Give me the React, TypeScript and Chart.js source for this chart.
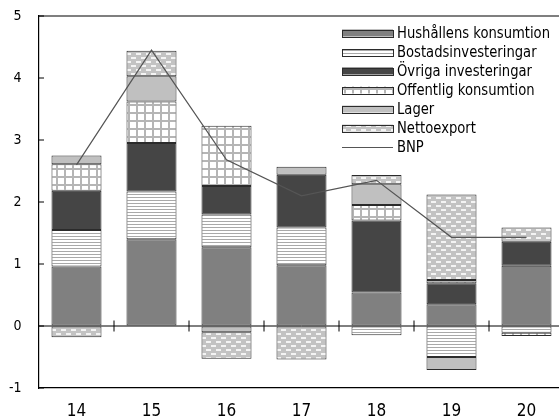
import React, { useEffect, useRef } from "react";
import { Chart, registerables } from "chart.js";

Chart.register(...registerables);

const years = ["14", "15", "16", "17", "18", "19", "20"];
const hushallens = [0.96, 1.4, 1.27, 0.98, 0.54, 0.35, 0.97];
const bostad = [0.59, 0.77, 0.53, 0.61, -0.15, -0.5, -0.11];
const ovriga = [0.63, 0.78, 0.46, 0.85, 1.16, 0.34, 0.39];
const offentlig = [0.43, 0.67, 0.97, null, 0.25, 0.05, -0.05];
const lager = [0.14, 0.41, -0.1, 0.13, 0.335, -0.21, null];
const netto = [-0.18, 0.41, -0.43, -0.54, 0.15, 1.38, 0.23];
const bnp = [2.6, 4.45, 2.68, 2.1, 2.35, 1.43, 1.43];

const labels = [
  "Hushållens konsumtion",
  "Bostadsinvesteringar",
  "Övriga investeringar",
  "Offentlig konsumtion",
  "Lager",
  "Nettoexport",
  "BNP",
];

const FONT = '"Liberation Sans Narrow", "Arial Narrow", "DejaVu Sans Condensed", sans-serif';
const BORDER = "#2b2b2b";

function makePattern(w: number, h: number, draw: (c: CanvasRenderingContext2D) => void) {
  const cv = document.createElement("canvas");
  cv.width = w;
  cv.height = h;
  const c = cv.getContext("2d")!;
  draw(c);
  return c.createPattern(cv, "repeat")!;
}

export default function App() {
  const ref = useRef<HTMLCanvasElement>(null);

  useEffect(() => {
    const stripes = makePattern(4, 3, (c) => {
      c.fillStyle = "#ffffff";
      c.fillRect(0, 0, 4, 3);
      c.fillStyle = "#a9a9a9";
      c.fillRect(0, 2, 4, 1);
    });
    const grid = makePattern(8, 8, (c) => {
      c.fillStyle = "#b5b5b5";
      c.fillRect(0, 0, 8, 8);
      c.fillStyle = "#ffffff";
      c.fillRect(2, 2, 6, 6);
    });
    const dots = makePattern(10, 8, (c) => {
      c.fillStyle = "#c3c3c3";
      c.fillRect(0, 0, 10, 8);
      c.fillStyle = "#f4f4f4";
      c.fillRect(1, 1, 5, 2);
      c.fillRect(6, 5, 4, 2);
      c.fillRect(0, 5, 1, 2);
    });

    const fills: (string | CanvasPattern)[] = ["#808080", stripes, "#454545", grid, "#c0c0c0", dots];
    const series = [hushallens, bostad, ovriga, offentlig, lager, netto];

    const barSets = series.map((d, i) => ({
      type: "bar" as const,
      label: labels[i],
      data: d,
      backgroundColor: fills[i],
      borderColor: BORDER,
      borderWidth: 1,
      borderSkipped: false,
      categoryPercentage: 1,
      barPercentage: 0.667,
      order: 1,
    }));

    const overlay = {
      id: "overlay",
      afterDatasetsDraw(chart: any) {
        const { ctx, chartArea } = chart;
        const x = chart.scales.x;
        const y = chart.scales.y;
        ctx.save();
        const y0 = y.getPixelForValue(0);
        ctx.strokeStyle = "#000";
        ctx.lineWidth = 1;
        ctx.beginPath();
        ctx.moveTo(chartArea.left, y0);
        ctx.lineTo(chartArea.right, y0);
        for (let i = 0; i < years.length - 1; i++) {
          const bx = (x.getPixelForTick(i) + x.getPixelForTick(i + 1)) / 2;
          ctx.moveTo(bx, y0 - 5.5);
          ctx.lineTo(bx, y0 + 5.5);
        }
        ctx.stroke();
        ctx.restore();
      },
      afterDraw(chart: any) {
        const { ctx, chartArea } = chart;
        const y = chart.scales.y;
        ctx.save();
        ctx.strokeStyle = "#000";
        ctx.lineWidth = 1.2;
        ctx.beginPath();
        ctx.moveTo(chartArea.left, chartArea.top);
        ctx.lineTo(chartArea.right, chartArea.top);
        ctx.stroke();
        ctx.lineWidth = 1;
        ctx.beginPath();
        y.ticks.forEach((t: any) => {
          const py = y.getPixelForValue(t.value);
          ctx.moveTo(chartArea.left, py);
          ctx.lineTo(chartArea.left + 5, py);
        });
        ctx.stroke();
        // legend
        const bx = chartArea.right - 222;
        const bw = 51;
        const bh = 7;
        ctx.font = `16px ${FONT}`;
        ctx.textBaseline = "middle";
        ctx.textAlign = "left";
        const targetW = 153;
        const measured = ctx.measureText(labels[0]).width;
        const sx = Math.min(1, targetW / measured);
        labels.forEach((lab, i) => {
          const cy = chartArea.top + 17 + i * 19;
          if (i < fills.length) {
            ctx.fillStyle = fills[i];
            ctx.fillRect(bx, cy - bh / 2, bw, bh);
            ctx.strokeStyle = BORDER;
            ctx.lineWidth = 1;
            ctx.strokeRect(bx + 0.5, Math.round(cy - bh / 2) + 0.5, bw, bh);
          } else {
            ctx.strokeStyle = "#555";
            ctx.lineWidth = 1;
            ctx.beginPath();
            ctx.moveTo(bx, Math.round(cy) + 0.5);
            ctx.lineTo(bx + bw, Math.round(cy) + 0.5);
            ctx.stroke();
          }
          ctx.save();
          ctx.translate(bx + bw + 4, cy + 1);
          ctx.scale(sx, 1);
          ctx.fillStyle = "#000";
          ctx.fillText(lab, 0, 0);
          ctx.restore();
        });
        ctx.restore();
      },
    };

    const chart = new Chart(ref.current!, {
      data: {
        labels: years,
        datasets: [
          ...barSets,
          {
            type: "line" as const,
            label: "BNP",
            data: bnp,
            borderColor: "#555555",
            borderWidth: 1.2,
            pointRadius: 0,
            tension: 0,
            fill: false,
            stack: "bnp",
            order: 0,
          },
        ] as any,
      },
      options: {
        responsive: false,
        animation: false,
        devicePixelRatio: 1,
        layout: { padding: { top: 16, left: 0, right: 0, bottom: 0 } },
        plugins: { legend: { display: false }, tooltip: { enabled: false } },
        scales: {
          x: {
            stacked: true,
            grid: { display: false, drawTicks: false },
            border: { display: true, color: "#000", width: 1.2 },
            ticks: { color: "#000", font: { family: FONT, size: 17 }, padding: 13 },
            afterFit: (s: any) => {
              s.height = 30;
            },
          },
          y: {
            stacked: true,
            min: -1,
            max: 5,
            grid: {
              display: true,
              drawOnChartArea: false,
              drawTicks: true,
              tickLength: 15,
              tickColor: "rgba(0,0,0,0)",
            },
            border: { display: true, color: "#000", width: 1.2 },
            ticks: { stepSize: 1, color: "#000", font: { family: FONT, size: 14 }, padding: 2.5 },
            afterFit: (s: any) => {
              s.width = 39;
            },
          },
        },
      } as any,
      plugins: [overlay],
    });
    return () => chart.destroy();
  }, []);

  return (
    <div style={{ position: "fixed", left: 0, top: 0, width: 559, height: 418, overflow: "hidden", background: "#fff" }}>
      <canvas ref={ref} width={564} height={418} style={{ display: "block", width: 564, height: 418 }} />
    </div>
  );
}
